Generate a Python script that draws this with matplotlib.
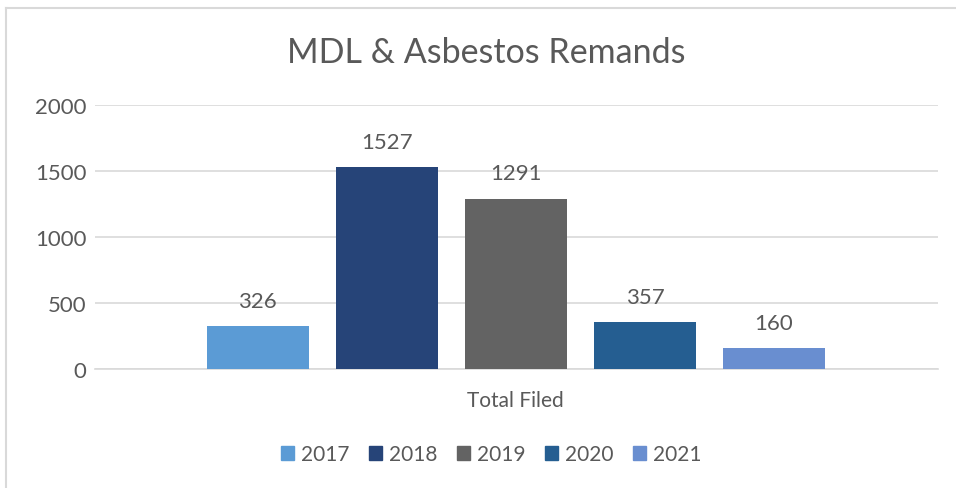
import numpy as np
import matplotlib.pyplot as plt
from matplotlib.lines import Line2D

plt.rcParams['font.family'] = ['Lato', 'DejaVu Sans']

title = "MDL & Asbestos Remands"
category = "Total Filed"
years = ["2017", "2018", "2019", "2020", "2021"]
values = [326, 1527, 1291, 357, 160]
colors = ["#5B9BD5", "#264478", "#636363", "#255E91", "#698ED0"]
yticks = [0, 500, 1000, 1500, 2000]

text_color = "#595959"
grid_color = "#D9D9D9"

fig = plt.figure(figsize=(9.56, 4.89), dpi=100)
ax = fig.add_axes([95 / 956, 1 - 370 / 489, (938 - 95) / 956, (370 - 106) / 489])

x = np.arange(len(years))
bars = ax.bar(x, values, width=0.79, color=colors, zorder=3)
for rect, v in zip(bars, values):
    ax.annotate(str(v), (rect.get_x() + rect.get_width() / 2, v),
                xytext=(0, 11), textcoords="offset points",
                ha="center", va="bottom", fontsize=16, color=text_color)

ax.set_xlim(-1.26, 5.27)
ax.set_ylim(0, 2000)
ax.set_yticks(yticks)
ax.set_yticklabels([str(t) for t in yticks], fontsize=16, color=text_color)
ax.set_xticks([(len(years) - 1) / 2])
ax.set_xticklabels([category], fontsize=15, color=text_color)
ax.tick_params(axis="both", length=0)
ax.tick_params(axis="y", pad=6)
ax.tick_params(axis="x", pad=15)
ax.grid(axis="y", color=grid_color, linewidth=1.2, zorder=0)
for s in ["top", "right", "left"]:
    ax.spines[s].set_visible(False)
ax.spines["bottom"].set_color(grid_color)
ax.spines["bottom"].set_linewidth(1.2)

fig.suptitle(title, x=486 / 956, y=1 - 53 / 489, va="center",
             fontsize=24.5, color=text_color)

handles = [plt.Rectangle((0, 0), 1, 1, color=c) for c in colors]
fig.legend(handles, years, loc="center", bbox_to_anchor=(491 / 956, 1 - 455 / 489),
           ncol=5, frameon=False, fontsize=15, labelcolor=text_color,
           handlelength=0.65, handleheight=0.65, handletextpad=0.3, columnspacing=0.95)

# chart border (left and top edges visible in the crop)
fig.add_artist(Line2D([5.5 / 956, 5.5 / 956], [0, 1 - 8.5 / 489], transform=fig.transFigure,
                      color="#D9D9D9", linewidth=1.5))
fig.add_artist(Line2D([5.5 / 956, 1], [1 - 8.5 / 489, 1 - 8.5 / 489], transform=fig.transFigure,
                      color="#D9D9D9", linewidth=1.5))

fig.savefig("out.png", dpi=100)
